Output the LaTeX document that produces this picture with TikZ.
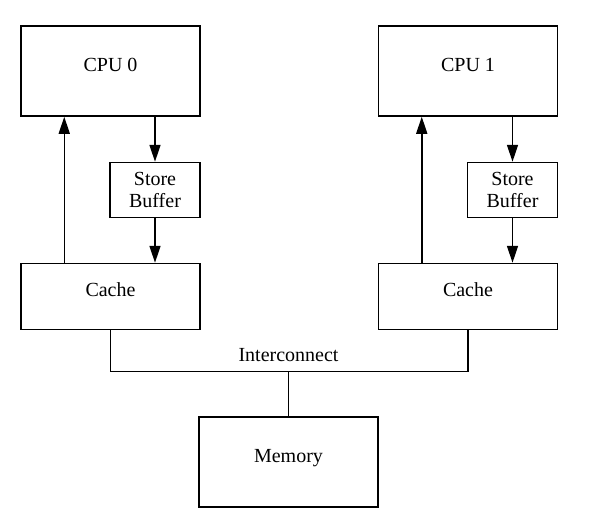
\documentclass[tikz,border=0pt]{standalone}
\usepackage{fontspec}
\setmainfont{Liberation Serif}
\usetikzlibrary{positioning,arrows.meta}

\begin{document}
\begin{tikzpicture}[x=1pt, y=-1pt, >={Triangle[length=17pt,width=11pt]}, line width=1.5pt,
    font=\fontsize{20}{22}\selectfont,
    unit/.style={draw, minimum width=179pt, minimum height=90pt, text height=10pt, text depth=10pt},
    cachebox/.style={unit, minimum height=66pt},
    bufbox/.style={draw, minimum width=90pt, minimum height=55pt, align=center, inner sep=0pt}]
    \useasboundingbox (0,0) rectangle (596,528);

    \node[unit]     (cpu0) at (110.5,71)                     {CPU 0};
    \node[unit]     (cpu1) [right=177pt of cpu0]             {CPU 1};
    \node[bufbox]   (sb0)  [below=45pt of cpu0.south east, anchor=north east] {Store\\Buffer};
    \node[bufbox]   (sb1)  [below=45pt of cpu1.south east, anchor=north east] {Store\\Buffer};
    \node[cachebox] (cache0) [below=146pt of cpu0.south, anchor=north] {Cache};
    \node[cachebox] (cache1) [below=146pt of cpu1.south, anchor=north] {Cache};
    \node[unit]     (mem)  at (288.5,462)                    {Memory};

    \coordinate (bus) at ([yshift=45pt]mem.north);
    \node[anchor=base] (busname) at ([yshift=10pt]bus) {Interconnect};

    % cache -> cpu, cpu -> store buffer -> cache
    \foreach \i in {0,1} {
        \draw[->] ([xshift=44pt]cache\i.north west) -- ([xshift=44pt]cpu\i.south west);
        \draw[->] (sb\i |- cpu\i.south) -- (sb\i.north);
        \draw[->] (sb\i.south) -- (sb\i |- cache\i.north);
    }

    % interconnect
    \draw (cache0.south) |- (bus) -| (cache1.south);
    \draw (bus) -- (mem.north);
\end{tikzpicture}
\end{document}
